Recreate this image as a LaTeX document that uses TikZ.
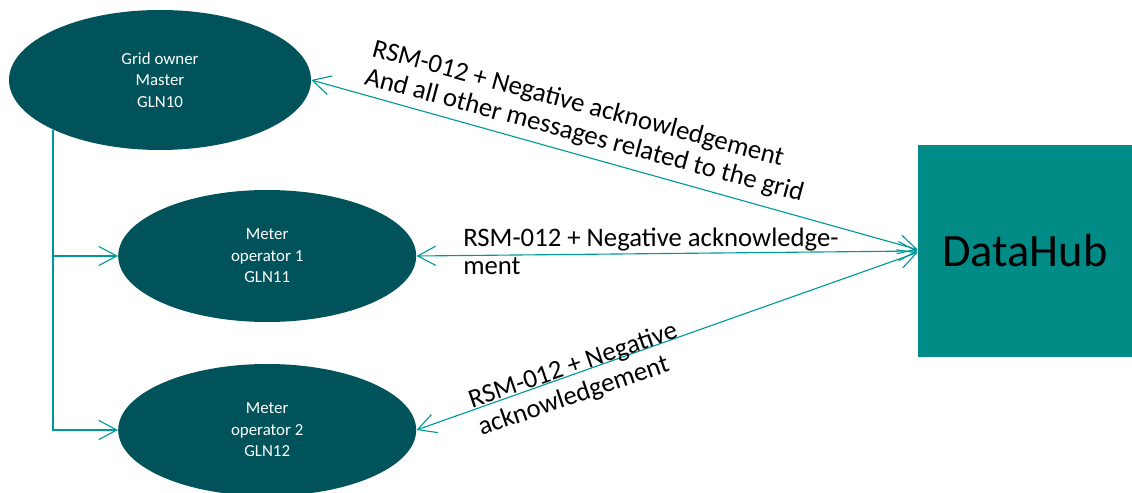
\documentclass[tikz,border=0pt]{standalone}
\usepackage{fontspec}
\setmainfont{Carlito}
\usetikzlibrary{positioning,arrows.meta,shapes.geometric}
\definecolor{dhdark}{HTML}{00535A}
\definecolor{dhline}{HTML}{00999A}
\definecolor{dhbox}{HTML}{008B87}

\begin{document}
\begin{tikzpicture}[
      party/.style={ellipse,fill=dhdark,text=white,inner sep=0pt,
                    minimum width=7.45cm,minimum height=3.3cm,align=center,
                    font=\fontsize{12}{15.2}\selectfont},
      hub/.style={rectangle,fill=dhbox,minimum width=5.35cm,minimum height=5.3cm,
                  font=\fontsize{33}{38}\selectfont},
      lbl/.style={align=left,inner sep=0pt,font=\fontsize{19}{20.6}\selectfont},
      arr/.style={{Straight Barb[length=4.5mm,width=4.8mm]}-{Straight Barb[length=4.5mm,width=4.8mm]},
                  line width=0.8pt,dhline},
      tree/.style={-{Straight Barb[length=4.5mm,width=4.8mm]},line width=0.8pt,dhline}]
    \useasboundingbox (0,0) rectangle (28.3,12.3);
    \node[party,minimum width=7.55cm,minimum height=3.5cm] (go) at (4.0,10.3)
      {Grid owner\\Master\\GLN10};
    \node[party] (mo1) at (6.68,5.9) {Meter\\operator 1\\GLN11};
    \node[party] (mo2) at (6.68,1.55) {Meter\\operator 2\\GLN12};
    \node[hub] (dh) at (25.625,6.025) {DataHub};
    % messages to the hub
    \draw[arr] (go.east) -- ([yshift=1pt]dh.west);
    \draw[arr] (mo1.east) -- (dh.west);
    \draw[arr] (mo2.east) -- ([yshift=-1pt]dh.west);
    % grid owner to meter operators
    \draw[tree] (go.south west) |- (mo1.west);
    \draw[tree] (go.south west) |- (mo2.west);
    \node[lbl,rotate=-15] (l1) at (14.7,9.25)
      {RSM-012 + Negative acknowledgement\\And all other messages related to the grid};
    \node[lbl,anchor=north west] (l2) at (11.575,6.62)
      {RSM-012 + Negative acknowledge-\\ment};
    \node[lbl,rotate=19] (l3) at (14.45,2.8)
      {RSM-012 + Negative\\acknowledgement};
  \end{tikzpicture}
\end{document}
